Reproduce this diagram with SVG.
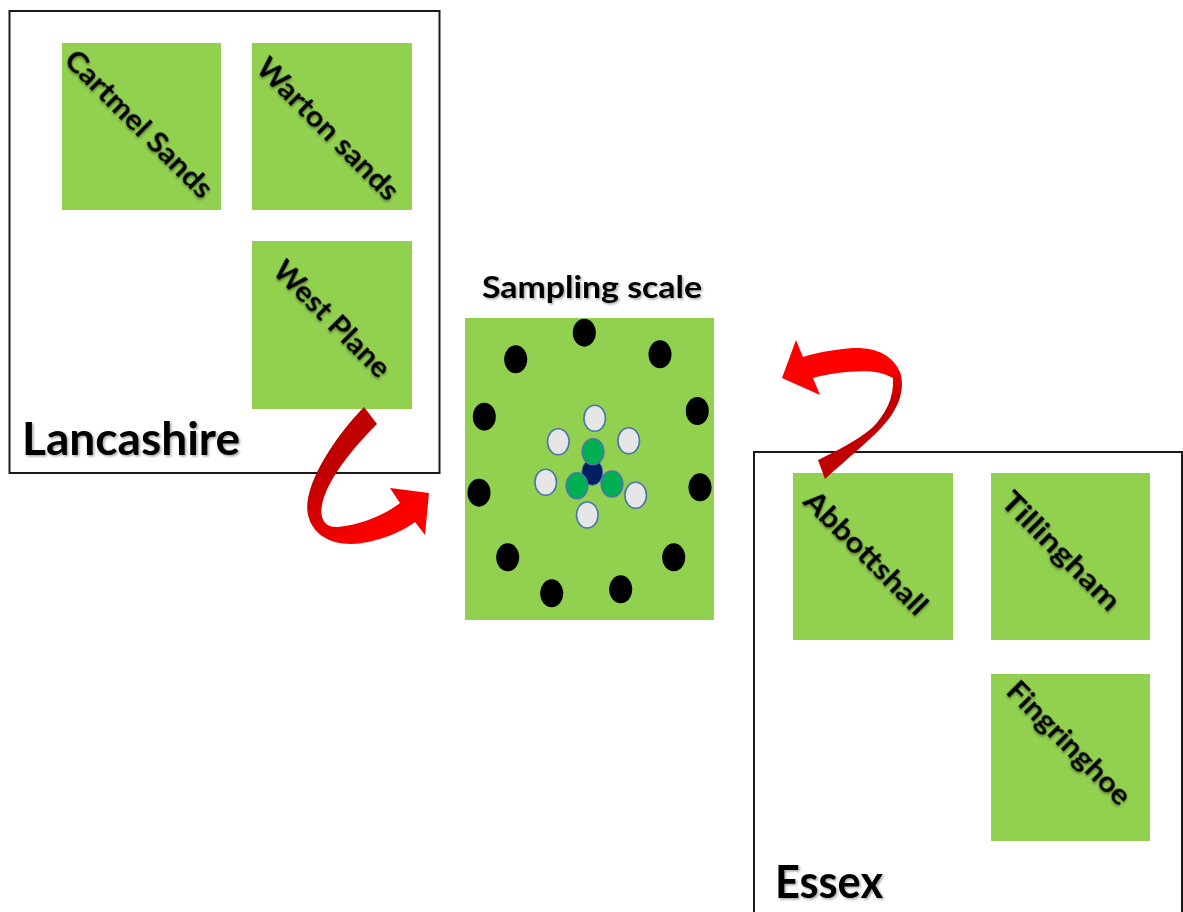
<svg xmlns="http://www.w3.org/2000/svg" width="1183" height="912" viewBox="0 0 1183 912">
<defs>
<style>
.region{fill:#fff;stroke:#1a1a1a;stroke-width:2}
.site{fill:#92d050}
.lbl{font-family:Lato,"Open Sans","Liberation Sans",sans-serif;font-weight:bold;fill:#000;filter:url(#sh)}
.big{font-size:45px}
.site-t{font-size:29px;text-anchor:middle}
.outer{fill:#000}
.mid{fill:#e6e6e6;stroke:#4a76a8;stroke-width:1.6}
.inner{fill:#00b050;stroke:#4a76a8;stroke-width:1.6}
.core{fill:#002060;stroke:#4a76a8;stroke-width:1}
</style>
<filter id="sh" x="-10%" y="-10%" width="130%" height="140%">
<feDropShadow dx="1.5" dy="1.5" stdDeviation="1" flood-color="#000" flood-opacity="0.35"/>
</filter>
<linearGradient id="gL" gradientUnits="userSpaceOnUse" x1="315" y1="480" x2="360" y2="545">
<stop offset="0" stop-color="#c00000"/>
<stop offset="1" stop-color="#ff0000"/>
</linearGradient>
<linearGradient id="gR" gradientUnits="userSpaceOnUse" x1="900" y1="395" x2="885" y2="372">
<stop offset="0" stop-color="#c00000"/>
<stop offset="1" stop-color="#ff0000"/>
</linearGradient>
</defs>
<rect width="1183" height="912" fill="#fff"/>

<g id="lancashire">
<rect class="region" x="9.5" y="11" width="430" height="462"/>
<text class="lbl big" x="22" y="455" textLength="218" lengthAdjust="spacingAndGlyphs">Lancashire</text>
</g>
<g id="cartmel-sands">
<rect class="site" x="62" y="43" width="159" height="167"/>
<text class="lbl site-t" transform="translate(132,131) rotate(45)" textLength="196" lengthAdjust="spacingAndGlyphs">Cartmel Sands</text>
</g>
<g id="warton-sands">
<rect class="site" x="252" y="43" width="160" height="167"/>
<text class="lbl site-t" transform="translate(321,136) rotate(45)" textLength="188" lengthAdjust="spacingAndGlyphs">Warton sands</text>
</g>
<g id="west-plane">
<rect class="site" x="252" y="241" width="160" height="168"/>
<text class="lbl site-t" transform="translate(325,326) rotate(45)" textLength="152" lengthAdjust="spacingAndGlyphs">West Plane</text>
</g>

<g id="essex">
<rect class="region" x="754" y="452" width="428" height="470"/>
<text class="lbl big" x="775" y="898" textLength="108" lengthAdjust="spacingAndGlyphs">Essex</text>
</g>
<g id="abbottshall">
<rect class="site" x="793" y="473" width="160" height="167"/>
<text class="lbl site-t" transform="translate(859,560) rotate(45)" textLength="162" lengthAdjust="spacingAndGlyphs">Abbottshall</text>
</g>
<g id="tillingham">
<rect class="site" x="991" y="473" width="159" height="167"/>
<text class="lbl site-t" transform="translate(1054,558) rotate(45)" textLength="155" lengthAdjust="spacingAndGlyphs">Tillingham</text>
</g>
<g id="fingringhoe">
<rect class="site" x="991" y="674" width="159" height="167"/>
<text class="lbl site-t" transform="translate(1062,750) rotate(45)" textLength="162" lengthAdjust="spacingAndGlyphs">Fingringhoe</text>
</g>

<g id="sampling-scale">
<text class="lbl" x="482" y="298" font-size="31" textLength="220" lengthAdjust="spacingAndGlyphs">Sampling scale</text>
<rect class="site" x="465" y="318" width="249" height="302"/>
<ellipse class="outer" cx="584.3" cy="332.7" rx="11.5" ry="14"/>
<ellipse class="outer" cx="515.7" cy="359.3" rx="11.5" ry="14"/>
<ellipse class="outer" cx="660" cy="354.3" rx="11.5" ry="14"/>
<ellipse class="outer" cx="484.3" cy="416.7" rx="11.5" ry="14"/>
<ellipse class="outer" cx="697.3" cy="411" rx="11.5" ry="14"/>
<ellipse class="outer" cx="479" cy="492.7" rx="11.5" ry="14"/>
<ellipse class="outer" cx="700" cy="487.3" rx="11.5" ry="14"/>
<ellipse class="outer" cx="507.7" cy="557.3" rx="11.5" ry="14"/>
<ellipse class="outer" cx="673.7" cy="557.3" rx="11.5" ry="14"/>
<ellipse class="outer" cx="551.7" cy="593.3" rx="11.5" ry="14"/>
<ellipse class="outer" cx="620.7" cy="589.3" rx="11.5" ry="14"/>
<ellipse class="mid" cx="594.7" cy="418.3" rx="10.8" ry="13"/>
<ellipse class="mid" cx="558.3" cy="441.7" rx="10.8" ry="13"/>
<ellipse class="mid" cx="628.7" cy="440.7" rx="10.8" ry="13"/>
<ellipse class="mid" cx="545.7" cy="482.3" rx="10.8" ry="13"/>
<ellipse class="mid" cx="635.7" cy="495.3" rx="10.8" ry="13"/>
<ellipse class="mid" cx="587.3" cy="515" rx="10.8" ry="13"/>
<ellipse class="core" cx="592.3" cy="472.3" rx="10.5" ry="13"/>
<ellipse class="inner" cx="593" cy="451.7" rx="10.8" ry="13"/>
<ellipse class="inner" cx="577" cy="485.7" rx="10.8" ry="13"/>
<ellipse class="inner" cx="612" cy="484" rx="10.8" ry="13"/>
</g>

<g id="connectors">
<path fill="url(#gL)" d="M364,407 C332,440 302,488 308,515 C314,540 340,548 368,542 C388,538 404,530 415,522 L425,535 L429,493 L390,488 L400,503 C385,515 360,525 338,527 C322,528 320,515 322,505 C326,484 346,455 377,424 Z"/>
<path fill="url(#gR)" d="M818,460 C835,452 858,440 872,428 C886,414 894,398 893,378 C880,370 860,370 838,373 C828,374 820,376 813,378 L820,395 L782,378 L796,340 L803,357 C815,353 830,350 853,348 C875,347 893,355 900,372 C906,390 898,410 882,427 C868,442 848,458 825,479 Z"/>
</g>
</svg>
